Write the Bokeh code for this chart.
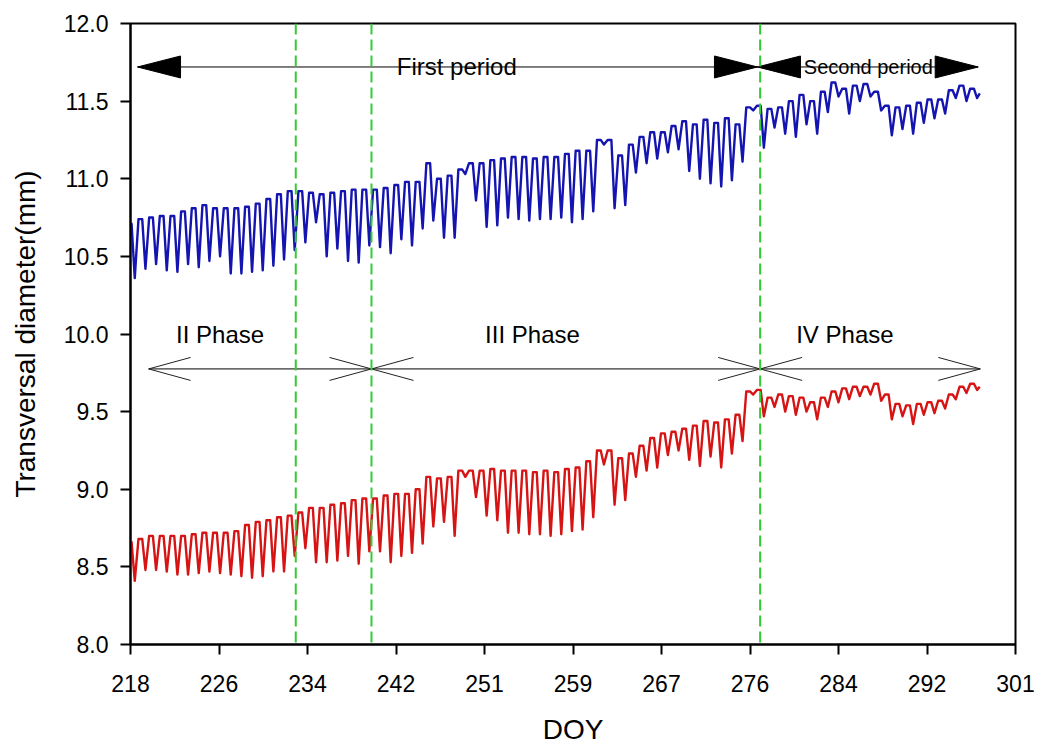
from bokeh.plotting import figure
from bokeh.models import Range1d, FixedTicker, Span, NumeralTickFormatter
from bokeh.embed import file_html
from bokeh.resources import INLINE
from bokeh.core.properties import value

# ---------------- data ----------------
doy = list(range(218, 298))

blue_max = [10.71, 10.74, 10.75, 10.76, 10.76, 10.79, 10.81, 10.83, 10.81, 10.81,
            10.81, 10.82, 10.84, 10.87, 10.90, 10.92, 10.92, 10.91, 10.90, 10.91,
            10.92, 10.93, 10.93, 10.93, 10.94, 10.96, 10.98, 10.98, 11.10, 11.00,
            11.02, 11.06, 11.10, 11.10, 11.12, 11.13, 11.14, 11.14, 11.13, 11.14,
            11.14, 11.16, 11.18, 11.18, 11.25, 11.25, 11.15, 11.22, 11.27, 11.30,
            11.30, 11.34, 11.37, 11.35, 11.38, 11.36, 11.39, 11.35, 11.46, 11.47,
            11.45, 11.46, 11.50, 11.54, 11.50, 11.56, 11.62, 11.58, 11.60, 11.61,
            11.56, 11.47, 11.46, 11.47, 11.49, 11.51, 11.51, 11.57, 11.60, 11.58]
blue_min = [10.36, 10.42, 10.45, 10.41, 10.40, 10.45, 10.43, 10.47, 10.50, 10.39,
            10.39, 10.40, 10.41, 10.44, 10.48, 10.54, 10.59, 10.72, 10.50, 10.55,
            10.47, 10.46, 10.57, 10.56, 10.52, 10.61, 10.57, 10.68, 10.73, 10.62,
            10.62, 11.03, 10.86, 10.69, 10.70, 10.75, 10.74, 10.73, 10.74, 10.74,
            10.75, 10.72, 10.74, 10.79, 11.22, 10.81, 10.83, 11.04, 11.10, 11.13,
            11.17, 11.19, 11.05, 11.00, 10.97, 10.95, 10.99, 11.11, 11.44, 11.20,
            11.33, 11.29, 11.27, 11.35, 11.29, 11.43, 11.53, 11.42, 11.50, 11.53,
            11.44, 11.28, 11.32, 11.29, 11.36, 11.39, 11.42, 11.52, 11.50, 11.52]
blue_end = 11.55

red_max = [8.66, 8.68, 8.70, 8.70, 8.70, 8.70, 8.71, 8.72, 8.72, 8.72,
           8.73, 8.77, 8.79, 8.80, 8.82, 8.83, 8.85, 8.88, 8.88, 8.90,
           8.91, 8.93, 8.94, 8.94, 8.96, 8.97, 8.97, 9.00, 9.08, 9.07,
           9.08, 9.12, 9.12, 9.12, 9.13, 9.12, 9.12, 9.12, 9.11, 9.12,
           9.11, 9.13, 9.14, 9.18, 9.25, 9.25, 9.20, 9.23, 9.28, 9.33,
           9.36, 9.37, 9.39, 9.41, 9.44, 9.43, 9.45, 9.48, 9.63, 9.64,
           9.59, 9.61, 9.60, 9.59, 9.56, 9.59, 9.63, 9.65, 9.66, 9.66,
           9.68, 9.61, 9.55, 9.54, 9.55, 9.56, 9.57, 9.61, 9.66, 9.68]
red_min = [8.41, 8.48, 8.48, 8.47, 8.45, 8.45, 8.46, 8.47, 8.46, 8.45,
           8.44, 8.43, 8.44, 8.47, 8.47, 8.57, 8.62, 8.53, 8.53, 8.54,
           8.57, 8.52, 8.60, 8.60, 8.53, 8.57, 8.59, 8.65, 8.76, 8.79,
           8.70, 9.08, 8.95, 8.83, 8.80, 8.72, 8.72, 8.71, 8.71, 8.70,
           8.71, 8.73, 8.74, 8.82, 9.16, 8.90, 8.93, 9.08, 9.12, 9.14,
           9.22, 9.25, 9.19, 9.15, 9.21, 9.14, 9.23, 9.31, 9.61, 9.47,
           9.53, 9.50, 9.48, 9.50, 9.45, 9.53, 9.56, 9.58, 9.60, 9.61,
           9.57, 9.45, 9.47, 9.42, 9.48, 9.49, 9.52, 9.58, 9.62, 9.64]
red_end = 9.66

x_ticks = [218.0, 226.3, 234.6, 242.9, 251.2, 259.5, 267.8, 276.1, 284.4, 292.7, 301.0]
x_tick_labels = ["218", "226", "234", "242", "251", "259", "267", "276", "284", "292", "301"]
y_ticks = [8.0, 8.5, 9.0, 9.5, 10.0, 10.5, 11.0, 11.5, 12.0]

green_lines = [233.5, 240.6, 277.05]

period_names = ["First period", "Second period"]
period_label_x = [248.6, 287.2]
period_bounds = [218.66, 276.8, 297.5]
period_y = 11.72

phase_names = ["II Phase", "III Phase", "IV Phase"]
phase_label_x = [226.4, 255.7, 285.0]
phase_label_y = 10.0
phase_bounds = [219.7, 240.6, 277.05, 297.7]
phase_y = 9.775

# ---------------- figure ----------------
X0, X1, Y0, Y1 = 218, 301, 8, 12
W, H = 1040, 747
ML, MR, MT, MB = 130, 25, 23, 103
px_x = (X1 - X0) / (W - ML - MR)   # data units per pixel
px_y = (Y1 - Y0) / (H - MT - MB)

p = figure(width=W, height=H, x_range=Range1d(X0, X1), y_range=Range1d(Y0, Y1),
           output_backend="svg", toolbar_location=None,
           min_border_left=ML, min_border_right=MR, min_border_top=MT, min_border_bottom=MB)
p.background_fill_color = "white"
p.border_fill_color = "white"
p.outline_line_color = "black"
p.outline_line_width = 2
p.xgrid.visible = False
p.ygrid.visible = False

FONT = "Liberation Sans"
for ax in (p.xaxis[0], p.yaxis[0]):
    ax.axis_line_width = 2
    ax.axis_line_color = "black"
    ax.major_tick_line_width = 2
    ax.major_tick_line_color = "black"
    ax.major_tick_out = 10
    ax.major_tick_in = 0
    ax.minor_tick_out = 0
    ax.minor_tick_in = 0
    ax.major_label_text_font = FONT
    ax.major_label_text_font_size = "23px"
    ax.major_label_text_color = "black"
    ax.axis_label_text_font = FONT
    ax.axis_label_text_font_size = "28px"
    ax.axis_label_text_font_style = "normal"
    ax.axis_label_text_color = "black"

p.xaxis.ticker = FixedTicker(ticks=x_ticks)
p.xaxis.major_label_overrides = dict(zip(x_ticks, x_tick_labels))
p.xaxis.major_label_standoff = 20
p.xaxis.axis_label = "DOY"
p.xaxis.axis_label_standoff = 19

p.yaxis.ticker = FixedTicker(ticks=y_ticks)
p.yaxis.formatter = NumeralTickFormatter(format="0.0")
p.yaxis.major_label_standoff = 12
p.yaxis.axis_label = "Transversal diameter(mm)"
p.yaxis.axis_label_standoff = 20


def trace(maxs, mins, end):
    # each day: top (two points), then the afternoon minimum
    xs, ys = [], []
    for d, hi, lo in zip(doy, maxs, mins):
        xs += [max(d - 0.25, X0), d + 0.1, d + 0.4]
        ys += [hi, hi, lo]
    xs.append(doy[-1] + 0.65)
    ys.append(end)
    return xs, ys


bx, by = trace(blue_max, blue_min, blue_end)
rx, ry = trace(red_max, red_min, red_end)
p.line(bx, by, line_color="#1414b0", line_width=2.4, line_join="round")
p.line(rx, ry, line_color="#d61414", line_width=2.4, line_join="round")

for g in green_lines:
    p.add_layout(Span(location=g, dimension="height", line_color="#33cc33",
                      line_width=2, line_dash="11 5"))

# ---- period arrows (filled heads) ----
p.segment(x0=[period_bounds[0]], y0=[period_y], x1=[period_bounds[-1]], y1=[period_y],
          line_color="black", line_width=1)
HL, HW = 43 * px_x, 11 * px_y
head_xs, head_ys = [], []
for i in range(len(period_names)):
    a, b = period_bounds[i], period_bounds[i + 1]
    head_xs.append([a, a + HL, a + HL]); head_ys.append([period_y, period_y + HW, period_y - HW])
    head_xs.append([b, b - HL, b - HL]); head_ys.append([period_y, period_y + HW, period_y - HW])
p.patches(head_xs, head_ys, fill_color="black", line_color="black", line_width=1)
p.text(x=period_label_x[:1], y=[period_y], text=period_names[:1],
       text_font=value(FONT), text_font_size="24px", text_align="center",
       text_baseline="alphabetic", text_color="black")
p.text(x=period_label_x[1:], y=[period_y], text=period_names[1:],
       text_font=value(FONT), text_font_size="20px", text_align="center",
       text_baseline="alphabetic", text_color="black")

# ---- phase arrows (open heads) ----
p.segment(x0=[phase_bounds[0]], y0=[phase_y], x1=[phase_bounds[-1]], y1=[phase_y],
          line_color="black", line_width=1)
OL, OW = 42 * px_x, 11.5 * px_y
arm_xs, arm_ys = [], []
for i in range(len(phase_names)):
    a, b = phase_bounds[i], phase_bounds[i + 1]
    arm_xs.append([a + OL, a, a + OL]); arm_ys.append([phase_y + OW, phase_y, phase_y - OW])
    arm_xs.append([b - OL, b, b - OL]); arm_ys.append([phase_y + OW, phase_y, phase_y - OW])
p.multi_line(arm_xs, arm_ys, line_color="#222222", line_width=1)
p.text(x=phase_label_x, y=[phase_label_y] * len(phase_names), text=phase_names,
       text_font=value(FONT), text_font_size="24px", text_align="center",
       text_baseline="alphabetic", text_color="black")

open("out.html", "w").write(file_html(p, INLINE))
